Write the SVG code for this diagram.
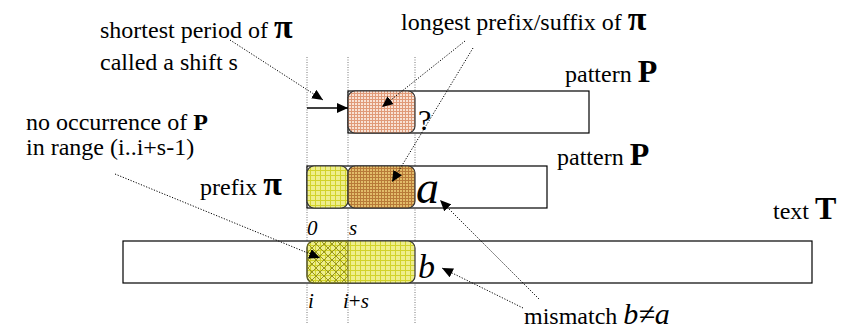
<svg xmlns="http://www.w3.org/2000/svg" width="856" height="332" viewBox="0 0 856 332">
<style>
text{font-family:'Liberation Serif','DejaVu Serif','Noto Serif','Times New Roman',serif;fill:#000}
.lbl{font-size:24px}
.pi{font-size:34px;font-weight:bold}
.bold{font-weight:bold}
.it{font-style:italic}
.box{fill:#fff;stroke:#000;stroke-width:1.2}
.seg{stroke:#333;stroke-width:1.2}
.guide{stroke:#777;stroke-width:1;stroke-dasharray:1,1.5;fill:none}
.dot{stroke:#000;stroke-width:1;stroke-dasharray:1.2,1.6;fill:none;marker-end:url(#ah)}
</style>
<defs>
<marker id="ah" markerUnits="userSpaceOnUse" markerWidth="12" markerHeight="10" refX="11" refY="5" orient="auto">
<path d="M0,0 L11,5 L0,10 Z" fill="#000"/>
</marker>
<marker id="ah2" markerUnits="userSpaceOnUse" markerWidth="12" markerHeight="10" refX="11" refY="5" orient="auto">
<path d="M0,0 L11,5 L0,10 Z" fill="#000"/>
</marker>
<pattern id="pOrange" width="3" height="3" patternUnits="userSpaceOnUse">
<rect width="3" height="3" fill="#f8e2d4"/>
<path d="M0,0.5H3M0.5,0V3" stroke="#e09a78" stroke-width="1"/>
</pattern>
<pattern id="pBrown" width="3" height="3" patternUnits="userSpaceOnUse">
<rect width="3" height="3" fill="#e2bc6a"/>
<path d="M0,0.5H3M0.5,0V3" stroke="#b87a38" stroke-width="1"/>
</pattern>
<pattern id="pYellow" width="5" height="5" patternUnits="userSpaceOnUse">
<rect width="5" height="5" fill="#eeee8c"/>
<path d="M0,0.5H5M0.5,0V5" stroke="#d2d22a" stroke-width="1"/>
</pattern>
<pattern id="pCross" width="8" height="8" patternUnits="userSpaceOnUse">
<path d="M0,0L8,8M8,0L0,8" stroke="#98961e" stroke-width="1"/>
</pattern>
</defs>

<g id="guides">
<line class="guide" x1="307" y1="57" x2="307" y2="323"/>
<line class="guide" x1="348" y1="57" x2="348" y2="323"/>
<line class="guide" x1="415" y1="57" x2="415" y2="323"/>
</g>

<g font-family="Liberation Serif, DejaVu Serif, serif">
<g id="pattern-top">
<rect class="box" x="348" y="91" width="241" height="42"/>
<rect class="seg" x="348" y="91" width="67" height="42" rx="7" fill="url(#pOrange)"/>
<text x="418" y="130" font-size="30">?</text>
<text class="lbl" x="565" y="82">pattern <tspan class="bold" font-size="32">P</tspan></text>
</g>

<g id="pattern-bottom">
<rect class="box" x="307" y="166" width="240" height="42"/>
<rect class="seg" x="307" y="166" width="41" height="42" rx="7" fill="url(#pYellow)"/>
<rect class="seg" x="348" y="166" width="67" height="42" rx="7" fill="url(#pBrown)"/>
<text class="it" x="416" y="203" font-size="46">a</text>
<text class="lbl" x="557" y="165">pattern <tspan class="bold" font-size="32">P</tspan></text>
</g>

<g id="text-T">
<rect class="box" x="123" y="241" width="689" height="42"/>
<rect class="seg" x="307" y="241" width="108" height="42" rx="7" fill="url(#pYellow)"/>
<path d="M348,241 H314 Q307,241 307,248 V276 Q307,283 314,283 H348 Z" fill="url(#pCross)" stroke="#6a6a20" stroke-width="1"/>
<text class="it" x="418" y="278" font-size="34">b</text>
<text class="lbl" x="773" y="219">text <tspan class="bold" font-size="32">T</tspan></text>
</g>

<g id="indices">
<text class="it" x="307" y="235" font-size="21">0</text>
<text class="it" x="349" y="235" font-size="21">s</text>
<text class="it" x="308" y="308" font-size="21">i</text>
<text class="it" x="343" y="308" font-size="21">i<tspan font-style="normal">+</tspan>s</text>
</g>

<g id="label-shift">
<text class="lbl" x="100" y="38">shortest period of <tspan class="pi">π</tspan></text>
<text class="lbl" x="100" y="70">called a shift s</text>
</g>
<g id="label-prefix-suffix">
<text class="lbl" x="401" y="30">longest prefix/suffix of <tspan class="pi">π</tspan></text>
</g>
<g id="label-no-occurrence">
<text class="lbl" x="26" y="130">no occurrence of <tspan class="bold">P</tspan></text>
<text class="lbl" x="26" y="155">in range (i..i+s-1)</text>
</g>
<g id="label-prefix">
<text class="lbl" x="200" y="195">prefix <tspan class="pi">π</tspan></text>
</g>
<g id="label-mismatch">
<text class="lbl" x="524" y="324">mismatch <tspan class="it" font-size="30">b≠a</tspan></text>
</g>
</g>

<g id="connectors">
<line x1="307" y1="108" x2="348" y2="108" stroke="#000" stroke-width="1.5" marker-end="url(#ah2)"/>
<line class="dot" x1="230" y1="40" x2="323" y2="100"/>
<line class="dot" x1="465" y1="41" x2="382" y2="107"/>
<line class="dot" x1="473" y1="48" x2="392" y2="182"/>
<line class="dot" x1="115" y1="174" x2="320" y2="258"/>
<line class="dot" x1="539" y1="299" x2="440" y2="200"/>
<line class="dot" x1="523" y1="308" x2="442" y2="268"/>
</g>
</svg>
